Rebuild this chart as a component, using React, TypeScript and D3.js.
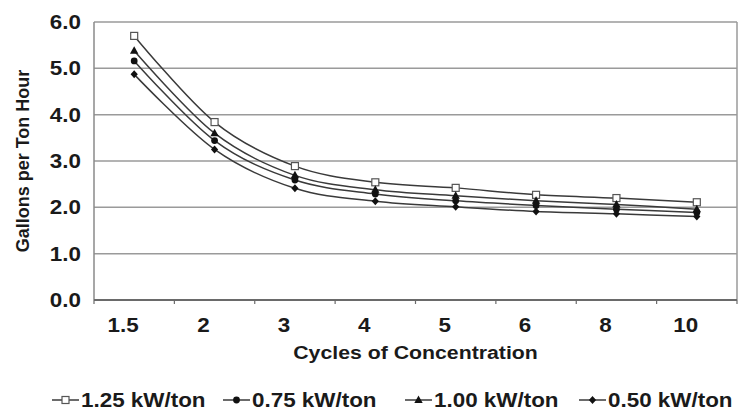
import React from "react";
import * as d3 from "d3";

const cycles = ["1.5", "2", "3", "4", "5", "6", "8", "10"];
const kw125 = [5.7, 3.84, 2.89, 2.54, 2.42, 2.27, 2.2, 2.11];
const kw100 = [5.38, 3.6, 2.69, 2.38, 2.25, 2.14, 2.06, 1.96];
const kw075 = [5.16, 3.44, 2.59, 2.29, 2.14, 2.04, 1.96, 1.89];
const kw050 = [4.87, 3.25, 2.41, 2.13, 2.01, 1.91, 1.86, 1.8];
const yTicks = [0, 1, 2, 3, 4, 5, 6];

const seriesNames = ["1.25 kW/ton", "0.75 kW/ton", "1.00 kW/ton", "0.50 kW/ton"];
const seriesValues = [kw125, kw075, kw100, kw050];
const seriesMarkers = ["square", "circle", "triangle", "diamond"];

const W = 743, H = 419;
const M = { left: 94, right: 6, top: 22, bottom: 120 };
const FONT = "'Liberation Sans', Arial, sans-serif";
const SX = 1.15;
const LINE = "#3a3a3a";

function Marker({ type, x, y }: { type: string; x: number; y: number }) {
  if (type === "square")
    return <rect x={x - 3.5} y={y - 3.5} width={7} height={7} fill="#fff" stroke="#555" strokeWidth={1.2} />;
  if (type === "circle") return <circle cx={x} cy={y} r={3.4} fill="#111" />;
  if (type === "triangle")
    return <path d={`M${x},${y - 4.5}L${x + 4.2},${y + 3}L${x - 4.2},${y + 3}Z`} fill="#111" />;
  return <path d={`M${x},${y - 4}L${x + 3.6},${y}L${x},${y + 4}L${x - 3.6},${y}Z`} fill="#111" />;
}

export default function App() {
  const x = d3.scaleBand<string>().domain(cycles).range([M.left, W - M.right]);
  const y = d3.scaleLinear().domain([0, 6]).range([H - M.bottom + 1, M.top]);
  const cx = (c: string) => (x(c) as number) + x.bandwidth() / 2;
  const line = d3
    .line<number>()
    .x((_, i) => cx(cycles[i]))
    .y((v) => y(v))
    .curve(d3.curveCatmullRom.alpha(0));
  const x0 = M.left, x1 = W - M.right, yb = y(0), yt = y(6);
  const legendX = [52, 223, 405, 579];
  const legendY = 400;

  return (
    <svg width={W} height={H} style={{ position: "absolute", left: 0, top: 0, background: "#fff" }} fontFamily={FONT}>
      {yTicks.map((t) => (
        <line key={"g" + t} x1={x0} x2={x1} y1={y(t)} y2={y(t)} stroke="#9a9a9a" strokeWidth={1.5} />
      ))}
      <line x1={x0} x2={x0} y1={yt} y2={yb} stroke="#8a8a8a" strokeWidth={1.5} />
      <line x1={x1} x2={x1} y1={yt} y2={yb} stroke="#9a9a9a" strokeWidth={1.5} />
      <line x1={x0} x2={x1} y1={yb} y2={yb} stroke="#6a6a6a" strokeWidth={1.8} />
      {cycles.map((c) => (
        <line key={"t" + c} x1={x(c) as number} x2={x(c) as number} y1={yb} y2={yb + 4} stroke="#6a6a6a" strokeWidth={1.2} />
      ))}
      <line x1={x1} x2={x1} y1={yb} y2={yb + 4} stroke="#6a6a6a" strokeWidth={1.2} />
      {yTicks.map((t) => (
        <text key={"yl" + t} transform={`translate(81,${y(t)}) scale(${SX},1)`} textAnchor="end" dominantBaseline="central"
          fontSize={19.5} fontWeight="bold" fill="#1a1a1a">{t.toFixed(1)}</text>
      ))}
      {cycles.map((c) => (
        <text key={"xl" + c} transform={`translate(${cx(c) - 11},${yb + 25}) scale(${SX},1)`} textAnchor="middle" dominantBaseline="central"
          fontSize={19.5} fontWeight="bold" fill="#1a1a1a">{c}</text>
      ))}
      <text transform={`translate(${(x0 + x1) / 2},${yb + 53}) scale(${SX},1)`} textAnchor="middle" dominantBaseline="central"
        fontSize={18.5} fontWeight="bold" fill="#1a1a1a">Cycles of Concentration</text>
      <text transform={`translate(23,${(yt + yb) / 2}) rotate(-90)`} textAnchor="middle" dominantBaseline="central"
        fontSize={18} fontWeight="bold" fill="#1a1a1a">Gallons per Ton Hour</text>
      {seriesValues.map((vals, si) => (
        <g key={"s" + si}>
          <path d={line(vals) as string} fill="none" stroke={LINE} strokeWidth={1.5} />
          {vals.map((v, i) => (
            <Marker key={i} type={seriesMarkers[si]} x={cx(cycles[i])} y={y(v)} />
          ))}
        </g>
      ))}
      {seriesNames.map((n, i) => (
        <g key={"lg" + i}>
          <line x1={legendX[i]} x2={legendX[i] + 27} y1={legendY} y2={legendY} stroke={LINE} strokeWidth={1.5} />
          <Marker type={seriesMarkers[i]} x={legendX[i] + 13.5} y={legendY} />
          <text transform={`translate(${legendX[i] + 29},${legendY}) scale(${SX},1)`} dominantBaseline="central"
            fontSize={19.5} fontWeight="bold" fill="#1a1a1a">{n}</text>
        </g>
      ))}
    </svg>
  );
}
